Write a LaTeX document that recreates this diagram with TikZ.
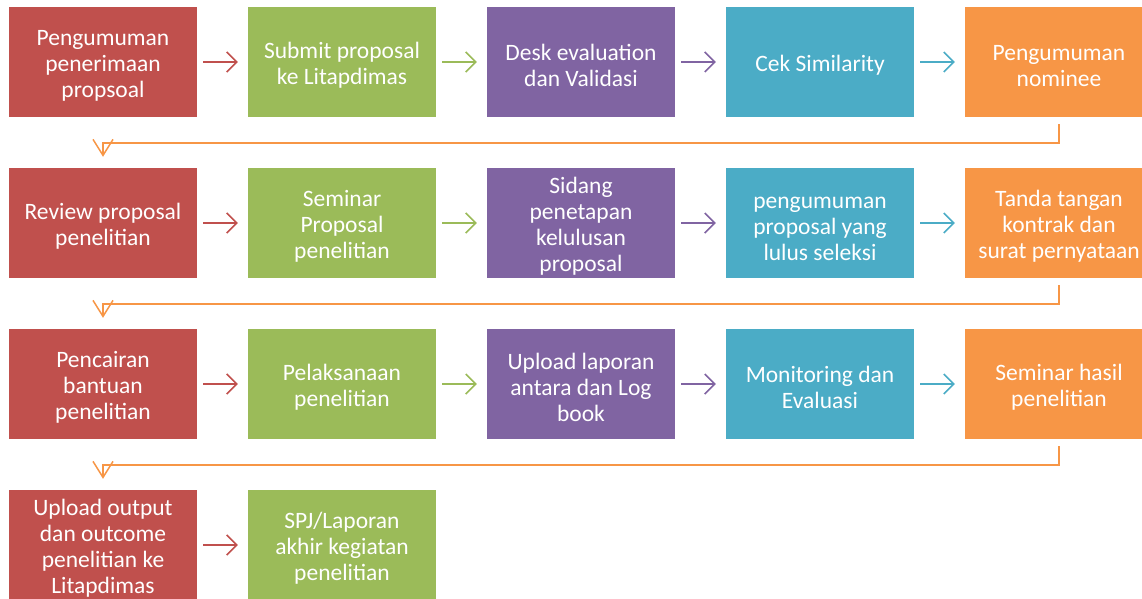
\documentclass[tikz,border=0pt]{standalone}
\usepackage{fontspec}
\setmainfont{Carlito}
\usetikzlibrary{arrows.meta}
\definecolor{cred}{HTML}{C0504D}
\definecolor{cgreen}{HTML}{9BBB59}
\definecolor{cpurple}{HTML}{8064A2}
\definecolor{cblue}{HTML}{4BACC6}
\definecolor{corange}{HTML}{F79646}

\begin{document}
\begin{tikzpicture}[x=1pt,y=-1pt,
  box/.style={fill=#1,minimum width=188pt,minimum height=110pt,inner sep=0pt,
    align=center,text=white,font=\fontsize{23.5}{26}\selectfont},
  link/.style={draw=#1,line width=1.5pt,-{Straight Barb[length=10pt,width=20pt]}},
  turn/.style={draw=corange,line width=1.5pt,-{Straight Barb[length=16pt,width=20pt]}}]
\clip (0,0) rectangle (1142,599);
% row 1
\foreach \c/\t [count=\i] in {cred/{Pengumuman\\penerimaan\\propsoal},
  cgreen/{Submit proposal\\ke Litapdimas},cpurple/{Desk evaluation\\dan Validasi},
  cblue/{Cek Similarity},corange/{Pengumuman\\nominee}} {
\node[box=\c] (a\i) at ({103+239*(\i-1)},62) {\rule{0pt}{23pt}\t};
}
% row 2
\foreach \c/\t [count=\i] in {cred/{Review proposal\\penelitian},
  cgreen/{Seminar\\Proposal\\penelitian},cpurple/{Sidang\\penetapan\\kelulusan\\proposal},
  cblue/{pengumuman\\proposal yang\\lulus seleksi},corange/{Tanda tangan\\kontrak dan\\surat pernyataan}} {
\node[box=\c] (b\i) at ({103+239*(\i-1)},223) {\rule{0pt}{23pt}\t};
}
% row 3
\foreach \c/\t [count=\i] in {cred/{Pencairan\\bantuan\\penelitian},
  cgreen/{Pelaksanaan\\penelitian},cpurple/{Upload laporan\\antara dan Log\\book},
  cblue/{Monitoring dan\\Evaluasi},corange/{Seminar hasil\\penelitian}} {
\node[box=\c] (c\i) at ({103+239*(\i-1)},384) {\rule{0pt}{23pt}\t};
}
% row 4
\foreach \c/\t [count=\i] in {cred/{Upload output\\dan outcome\\penelitian ke\\Litapdimas},
  cgreen/{SPJ/Laporan\\akhir kegiatan\\penelitian}} {
\node[box=\c] (d\i) at ({103+239*(\i-1)},545) {\rule{0pt}{23pt}\t};
}
% arrows in the rows
\foreach \r in {a,b,c} {
\foreach \c [count=\i, evaluate=\i as \j using int(\i+1)] in {cred,cgreen,cpurple,cblue} {
\draw[link=\c] ([xshift=6pt]\r\i.east) -- ([xshift=-10pt]\r\j.west);
}
}
\draw[link=cred] ([xshift=6pt]d1.east) -- ([xshift=-10pt]d2.west);
% from one row to the next
\draw[turn] ([yshift=-7pt]a5.south) -- ++(0,19) -| ([yshift=11pt]b1.north);
\draw[turn] ([yshift=-7pt]b5.south) -- ++(0,19) -| ([yshift=11pt]c1.north);
\draw[turn] ([yshift=-7pt]c5.south) -- ++(0,19) -| ([yshift=11pt]d1.north);
\end{tikzpicture}
\end{document}
